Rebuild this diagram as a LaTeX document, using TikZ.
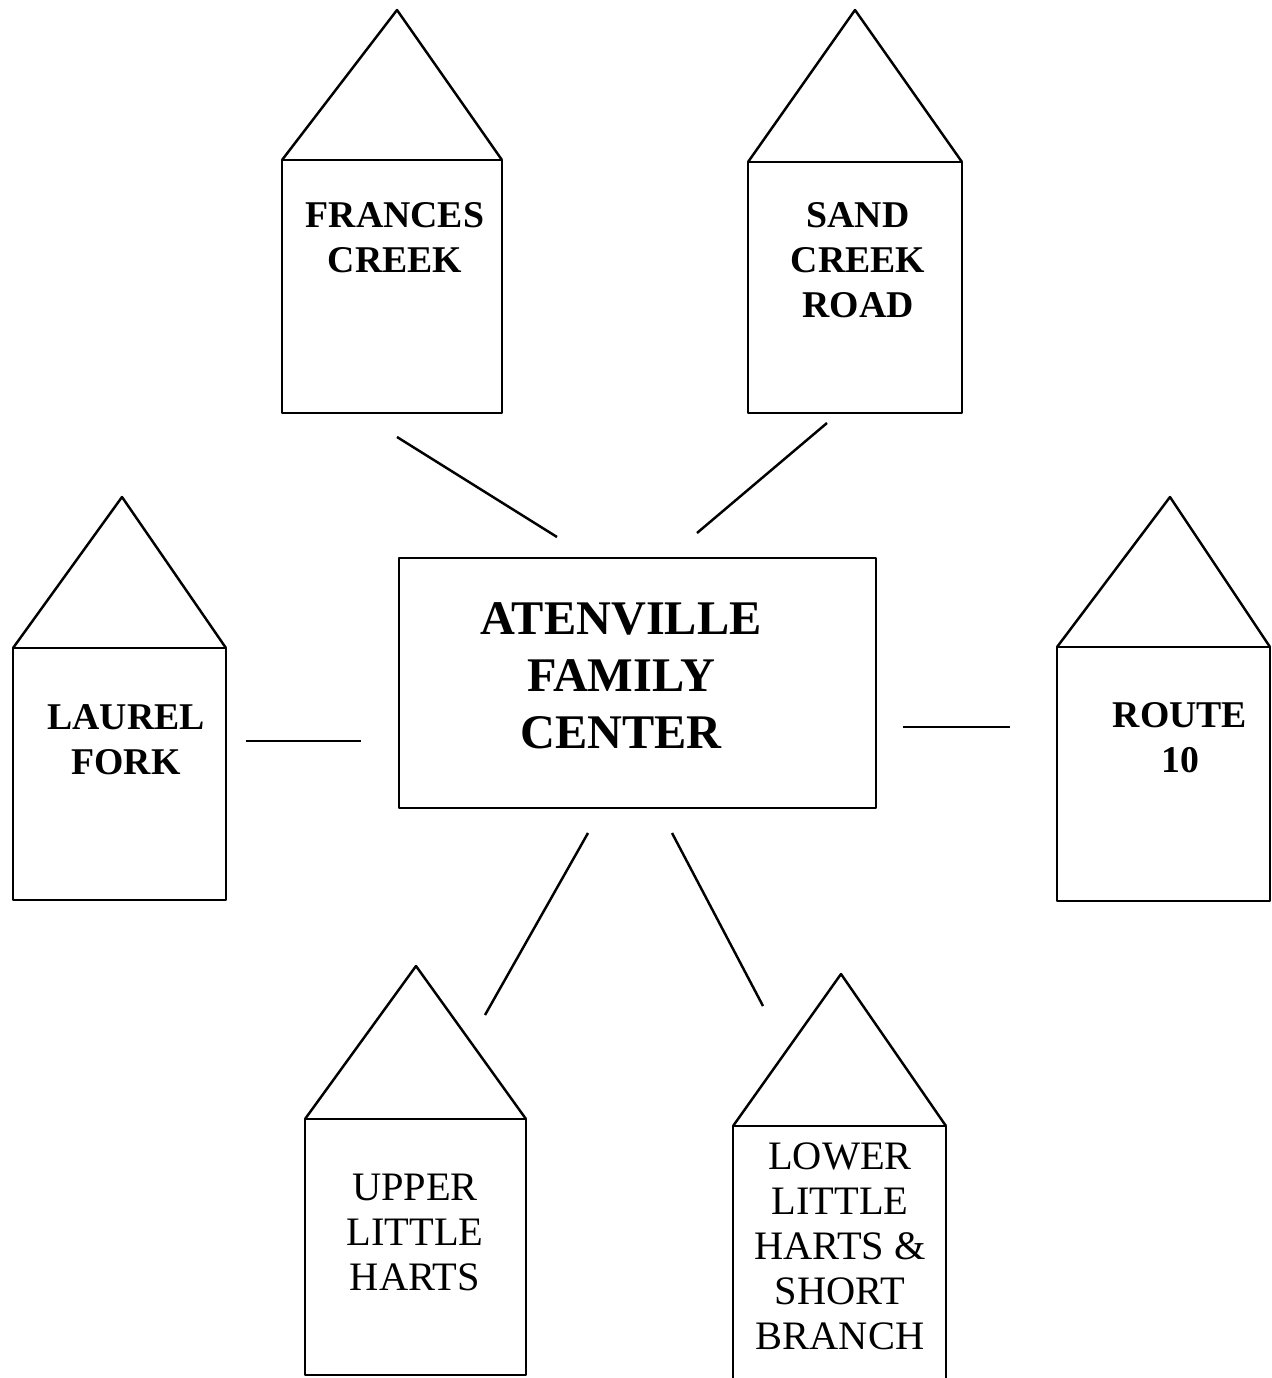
\documentclass[tikz,border=0pt]{standalone}
\usepackage{fontspec}
\setmainfont{Liberation Serif}

\tikzset{
  casa/.style={draw, rectangle, inner sep=0pt, outer sep=0pt},
  rotulo/.style={align=center, font=\fontsize{21.5}{25.6}\selectfont\bfseries},
  rotulofino/.style={align=center, font=\fontsize{23}{25.6}\selectfont},
}

\begin{document}
\begin{tikzpicture}[x=0.02cm,y=-0.02cm,line width=1.4pt,line join=round]

	\useasboundingbox (0,0) rectangle (1271,1378);

	% Centro
	\node[casa, minimum width=9.54cm, minimum height=5cm] (centro) at (637.5,683) {};
	\node[align=center, font=\fontsize{27.5}{32.4}\selectfont\bfseries] (centro-txt) at (621,676) {ATENVILLE\\FAMILY\\CENTER};

	% Frances Creek
	\node[casa, minimum width=4.4cm, minimum height=5.06cm] (frances) at (392,286.5) {};
	\draw (frances.north west) -- (397,10) -- (frances.north east);
	\node[rotulo] (frances-txt) at (395,237.5) {FRANCES\\CREEK};

	% Sand Creek Road
	\node[casa, minimum width=4.28cm, minimum height=5.02cm] (sand) at (855,287.5) {};
	\draw (sand.north west) -- (855,10) -- (sand.north east);
	\node[rotulo] (sand-txt) at (858,260) {SAND\\CREEK\\ROAD};

	% Laurel Fork
	\node[casa, minimum width=4.26cm, minimum height=5.04cm] (laurel) at (119.5,774) {};
	\draw (laurel.north west) -- (122,497) -- (laurel.north east);
	\node[rotulo] (laurel-txt) at (126,740) {LAUREL\\FORK};

	% Route 10
	\node[casa, minimum width=4.26cm, minimum height=5.08cm] (route) at (1163.5,774) {};
	\draw (route.north west) -- (1170,497) -- (route.north east);
	\node[rotulo] (route-txt) at (1180,737.5) {ROUTE\\10};

	% Upper Little Harts
	\node[casa, minimum width=4.42cm, minimum height=5.12cm] (upper) at (415.5,1247) {};
	\draw (upper.north west) -- (416,966) -- (upper.north east);
	\node[rotulofino] (upper-txt) at (415,1232) {UPPER\\LITTLE\\HARTS};

	% Lower Little Harts & Short Branch
	\node[casa, minimum width=4.26cm, minimum height=5.28cm] (lower) at (839.5,1258) {};
	\draw (lower.north west) -- (841,974) -- (lower.north east);
	\node[rotulofino] (lower-txt) at (840,1246) {LOWER\\LITTLE\\HARTS \&\\SHORT\\BRANCH};

	% Conectores
	\coordinate (fa) at (397,437);  \coordinate (fb) at (557,537);
	\coordinate (sa) at (827,423);  \coordinate (sb) at (697,533);
	\coordinate (la) at (246,741);  \coordinate (lb) at (361,741);
	\coordinate (ra) at (1010,727); \coordinate (rb) at (903,727);
	\coordinate (ua) at (485,1015); \coordinate (ub) at (588,833);
	\coordinate (wa) at (763,1006); \coordinate (wb) at (672,833);

	\draw (fa) -- (fb);
	\draw (sa) -- (sb);
	\draw (la) -- (lb);
	\draw (ra) -- (rb);
	\draw (ua) -- (ub);
	\draw (wa) -- (wb);

\end{tikzpicture}
\end{document}
